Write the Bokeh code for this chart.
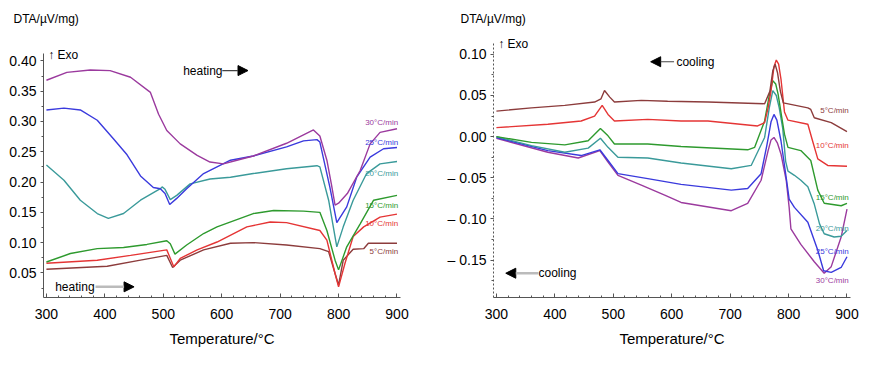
from bokeh.plotting import figure
from bokeh.layouts import row
from bokeh.models import (Label, Arrow, NormalHead, Range1d, FixedTicker,
                          CustomJSTickFormatter)
from bokeh.embed import file_html
from bokeh.resources import INLINE

FONT = "Liberation Sans"

rates = ["30°C/min", "25°C/min", "20°C/min", "15°C/min", "10°C/min", "5°C/min"]
colors = ["#9b3a9e", "#3a3add", "#3a9a9a", "#2e9a2e", "#e53535", "#8c3c3c"]

# ---------------- heating (left) ----------------
h30_x = [300, 335, 375, 409, 444, 478, 492, 506, 529, 558, 580, 603, 626, 654, 711, 757, 768, 780, 788, 794, 800, 815, 837, 854, 871, 900]
h30_y = [0.368, 0.381, 0.385, 0.384, 0.373, 0.348, 0.312, 0.285, 0.263, 0.244, 0.233, 0.230, 0.236, 0.243, 0.264, 0.286, 0.276, 0.236, 0.195, 0.162, 0.165, 0.181, 0.219, 0.263, 0.282, 0.288]
h25_x = [300, 330, 358, 387, 415, 438, 461, 483, 495, 503, 511, 523, 540, 569, 615, 654, 711, 740, 763, 768, 785, 797, 814, 831, 854, 877, 900]
h25_y = [0.319, 0.322, 0.319, 0.302, 0.271, 0.245, 0.210, 0.191, 0.189, 0.181, 0.163, 0.173, 0.189, 0.214, 0.236, 0.243, 0.258, 0.268, 0.270, 0.266, 0.192, 0.133, 0.159, 0.208, 0.241, 0.255, 0.257]
h20_x = [300, 330, 358, 387, 406, 432, 461, 495, 498, 503, 512, 523, 546, 580, 615, 654, 711, 763, 768, 783, 797, 808, 825, 848, 871, 900]
h20_y = [0.228, 0.203, 0.170, 0.148, 0.140, 0.148, 0.170, 0.189, 0.192, 0.188, 0.171, 0.178, 0.197, 0.205, 0.208, 0.214, 0.222, 0.227, 0.225, 0.170, 0.093, 0.126, 0.170, 0.214, 0.230, 0.234]
h15_x = [300, 341, 387, 432, 472, 506, 512, 520, 540, 569, 592, 654, 689, 740, 768, 780, 794, 800, 814, 837, 860, 900]
h15_y = [0.068, 0.082, 0.090, 0.092, 0.097, 0.103, 0.098, 0.081, 0.096, 0.115, 0.126, 0.148, 0.153, 0.152, 0.150, 0.120, 0.071, 0.055, 0.093, 0.131, 0.170, 0.178]
h10_x = [300, 387, 444, 506, 518, 529, 558, 592, 643, 683, 711, 768, 780, 794, 800, 811, 825, 843, 871, 900]
h10_y = [0.066, 0.071, 0.079, 0.088, 0.060, 0.074, 0.088, 0.101, 0.126, 0.134, 0.133, 0.120, 0.104, 0.049, 0.027, 0.066, 0.110, 0.126, 0.142, 0.147]
h5_x = [300, 404, 461, 506, 516, 529, 569, 615, 654, 711, 768, 783, 794, 800, 808, 825, 843, 851, 900]
h5_y = [0.056, 0.061, 0.071, 0.079, 0.059, 0.071, 0.088, 0.099, 0.100, 0.096, 0.090, 0.085, 0.049, 0.030, 0.071, 0.089, 0.090, 0.099, 0.099]
heat_label_y = [0.298, 0.265, 0.214, 0.161, 0.132, 0.086]

# ---------------- cooling (right) ----------------
c5_x = [300, 360, 417, 468, 479, 485, 494, 502, 548, 593, 662, 759, 768, 773, 777, 781, 786, 791, 833, 838, 844, 873, 900]
c5_y = [0.031, 0.035, 0.038, 0.042, 0.046, 0.056, 0.048, 0.042, 0.044, 0.043, 0.042, 0.040, 0.055, 0.080, 0.088, 0.078, 0.055, 0.041, 0.035, 0.033, 0.023, 0.017, 0.006]
c10_x = [300, 388, 445, 468, 481, 491, 502, 559, 616, 662, 747, 759, 765, 770, 775, 779, 783, 787, 793, 799, 833, 841, 850, 867, 900]
c10_y = [0.011, 0.015, 0.019, 0.025, 0.038, 0.027, 0.019, 0.021, 0.019, 0.019, 0.013, 0.017, 0.035, 0.056, 0.085, 0.093, 0.088, 0.070, 0.030, 0.020, 0.015, -0.005, -0.027, -0.035, -0.036]
c15_x = [300, 360, 417, 457, 478, 491, 502, 559, 616, 730, 742, 759, 767, 773, 778, 782, 788, 793, 799, 821, 838, 850, 861, 890, 900]
c15_y = [0.000, -0.007, -0.010, -0.005, 0.010, 0.001, -0.009, -0.009, -0.012, -0.016, -0.013, 0.019, 0.050, 0.068, 0.064, 0.052, 0.025, 0.003, -0.013, -0.017, -0.029, -0.065, -0.081, -0.084, -0.081]
c20_x = [300, 360, 417, 457, 478, 491, 508, 559, 616, 702, 736, 759, 767, 773, 779, 784, 790, 795, 799, 810, 821, 833, 844, 853, 861, 878, 890, 900]
c20_y = [0.000, -0.011, -0.019, -0.014, -0.002, -0.013, -0.025, -0.026, -0.032, -0.039, -0.035, -0.001, 0.035, 0.056, 0.050, 0.035, 0.010, -0.030, -0.042, -0.047, -0.053, -0.061, -0.082, -0.106, -0.118, -0.122, -0.121, -0.114]
c25_x = [300, 388, 445, 477, 491, 508, 559, 616, 702, 730, 753, 763, 770, 775, 780, 787, 796, 801, 810, 833, 850, 860, 873, 890, 900]
c25_y = [-0.001, -0.017, -0.023, -0.016, -0.029, -0.045, -0.051, -0.058, -0.065, -0.063, -0.045, -0.010, 0.018, 0.027, 0.020, -0.005, -0.050, -0.076, -0.086, -0.104, -0.138, -0.163, -0.165, -0.159, -0.146]
c30_x = [300, 388, 440, 477, 491, 508, 548, 588, 616, 702, 730, 753, 765, 770, 775, 781, 787, 796, 801, 804, 821, 844, 861, 873, 890, 900]
c30_y = [-0.002, -0.019, -0.026, -0.017, -0.031, -0.047, -0.059, -0.071, -0.080, -0.090, -0.081, -0.053, -0.017, -0.004, -0.001, -0.008, -0.021, -0.053, -0.086, -0.112, -0.131, -0.152, -0.166, -0.158, -0.122, -0.088]
cool_label_y = [-0.175, -0.140, -0.112, -0.074, -0.011, 0.032]

x_ticks = [300, 400, 500, 600, 700, 800, 900]
heat_y_ticks = [0.05, 0.10, 0.15, 0.20, 0.25, 0.30, 0.35, 0.40]
cool_y_ticks = [-0.15, -0.10, -0.05, 0.00, 0.05, 0.10]


def base(width, ml, mr, yr, ybounds, dashed, title_off):
    p = figure(width=width, height=349,
               min_border_left=ml, min_border_right=mr, min_border_top=0,
               min_border_bottom=0, x_range=Range1d(295, 906), y_range=yr,
               output_backend="svg", toolbar_location=None,
               title="DTA/µV/mg)")
    p.title.align = "left"
    p.title.offset = title_off
    p.title.standoff = 19
    p.title.text_font = FONT
    p.title.text_font_size = "12px"
    p.title.text_font_style = "normal"
    p.title.text_color = "black"
    p.outline_line_color = None
    p.grid.visible = False
    p.background_fill_color = "white"
    p.border_fill_color = "white"
    xa = p.xaxis[0]
    xa.ticker = FixedTicker(ticks=x_ticks, minor_ticks=list(range(300, 901, 20)))
    xa.major_tick_in = 4
    xa.major_tick_out = 0
    xa.minor_tick_in = 2
    xa.minor_tick_out = 0
    xa.axis_line_color = "#555555"
    xa.major_tick_line_color = "#555555"
    xa.minor_tick_line_color = "#555555"
    xa.major_label_text_font = FONT
    xa.major_label_text_font_size = "14px"
    xa.major_label_text_line_height = 0.9
    xa.major_label_text_color = "black"
    xa.major_label_standoff = 11
    xa.axis_label = "Temperature/°C"
    xa.axis_label_text_font = FONT
    xa.axis_label_text_font_size = "15px"
    xa.axis_label_text_line_height = 0.9
    xa.axis_label_text_font_style = "normal"
    xa.axis_label_text_color = "black"
    xa.axis_label_standoff = 8
    ya = p.yaxis[0]
    ya.bounds = ybounds
    ya.major_tick_in = 0
    ya.major_tick_out = 3
    ya.minor_tick_in = 0
    ya.minor_tick_out = 2
    ya.axis_line_color = "#555555"
    ya.major_tick_line_color = "#555555"
    ya.minor_tick_line_color = "#555555"
    if dashed:
        ya.axis_line_dash = "2 2"
    ya.major_label_text_font = FONT
    ya.major_label_text_font_size = "14px"
    ya.major_label_text_color = "black"
    ya.major_label_standoff = 4
    return p


def arrow(p, xs, xe, y, lw, lc):
    p.add_layout(Arrow(end=NormalHead(size=10, fill_color="black", line_color="black"),
                       x_start=xs, y_start=y, x_end=xe, y_end=y,
                       line_color=lc, line_width=lw))


def txt(p, x, y, s, size="12px", color="black", align="left"):
    p.add_layout(Label(x=x, y=y, text=s, text_font=FONT, text_font_size=size,
                       text_color=color, text_align=align, text_baseline="middle"))


# ---- left figure ----
p1 = base(444, 43, 44, Range1d(0.0094, 0.4419), (0.0094, 0.413), False, -30)
p1.yaxis[0].ticker = FixedTicker(ticks=heat_y_ticks,
                                 minor_ticks=[0.025 * i for i in range(1, 17)])
p1.yaxis[0].formatter = CustomJSTickFormatter(code="return tick.toFixed(2);")
heat = [(h30_x, h30_y), (h25_x, h25_y), (h20_x, h20_y),
        (h15_x, h15_y), (h10_x, h10_y), (h5_x, h5_y)]
for (xs, ys), c in zip(heat[::-1], colors[::-1]):
    p1.line(xs, ys, line_color=c, line_width=1.4)
for r, c, ly in zip(rates, colors, heat_label_y):
    txt(p1, 902, ly, r, size="8px", color=c, align="right")
txt(p1, 303, 0.410, "↑ Exo")
txt(p1, 534, 0.384, "heating")
arrow(p1, 601, 645, 0.384, 1.2, "#444444")
txt(p1, 315, 0.027, "heating")
arrow(p1, 384, 450, 0.027, 2.5, "#bbbbbb")

# ---- right figure ----
p2 = base(420, 49, 14, Range1d(-0.1955, 0.1229), (-0.1955, 0.1145), True, -33)
p2.yaxis[0].ticker = FixedTicker(ticks=cool_y_ticks,
                                 minor_ticks=[-0.175 + 0.025 * i for i in range(12)])
p2.yaxis[0].formatter = CustomJSTickFormatter(
    code="return tick < -1e-9 ? '\u2013 ' + Math.abs(tick).toFixed(2) : Math.abs(tick).toFixed(2);")
cool = [(c30_x, c30_y), (c25_x, c25_y), (c20_x, c20_y),
        (c15_x, c15_y), (c10_x, c10_y), (c5_x, c5_y)]
for (xs, ys), c in zip(cool, colors):
    p2.line(xs, ys, line_color=c, line_width=1.4)
for r, c, ly in zip(rates, colors, cool_label_y):
    txt(p2, 903, ly, r, size="8px", color=c, align="right")
txt(p2, 303, 0.1126, "↑ Exo")
txt(p2, 608, 0.091, "cooling")
arrow(p2, 604, 564, 0.091, 1.2, "#444444")
txt(p2, 372, -0.166, "cooling")
arrow(p2, 372, 316, -0.166, 2.5, "#bbbbbb")

layout = row(p1, p2)
open("out.html", "w").write(file_html(layout, INLINE))
